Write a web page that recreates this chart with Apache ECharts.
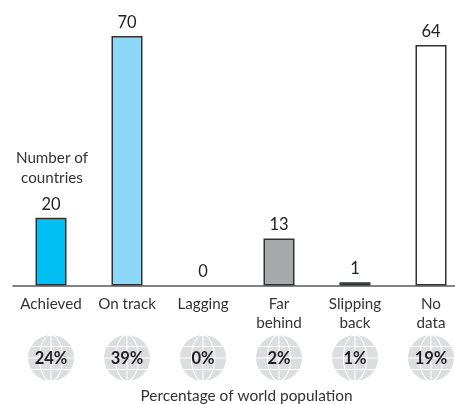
<!DOCTYPE html>
<html><head><meta charset="utf-8">
<style>html,body{margin:0;padding:0;background:#fff}#c{width:455px;height:404px}</style>
<script src="https://cdn.jsdelivr.net/npm/echarts@6/dist/echarts.min.js"></script>
</head><body><div id="c"></div>
<script>
const categories = ['Achieved','On track','Lagging','Far\nbehind','Slipping\nback','No\ndata'];
const countries = [20,70,0,13,1,64];
const drawnHeights = [19,70,0,13.2,0.9,67.5];
const barColors = ['#00BFF3','#8DD8F8','#ffffff','#A7A9AC','#58595B','#ffffff'];
const populationShare = [24,39,0,2,1,19];
const FONT = 'Lato';
const chart = echarts.init(document.getElementById('c'),null,{renderer:'canvas'});
function globe(params, api){
  const c = api.coord([api.value(0), 0]);
  const r = 23, x = c[0], y = c[1];
  const line = {stroke:'#fff', lineWidth:1.1, fill:null};
  return {type:'group', children:[
    {type:'circle', shape:{cx:x,cy:y,r:r}, style:{fill:'#DCDDDE'}},
    {type:'line', shape:{x1:x,y1:y-r,x2:x,y2:y+r}, style:line},
    {type:'ellipse', shape:{cx:x,cy:y,rx:11.5,ry:r}, style:line},
    {type:'line', shape:{x1:x-r,y1:y,x2:x+r,y2:y}, style:line},
    {type:'line', shape:{x1:x-r+3,y1:y-11.5,x2:x+r-3,y2:y-11.5}, style:line},
    {type:'line', shape:{x1:x-r+3,y1:y+11.5,x2:x+r-3,y2:y+11.5}, style:line},
    {type:'text', style:{x:x,y:y+1,text:populationShare[params.dataIndex]+'%',
      fill:'#231F20',font:'bold 16.5px '+FONT,textAlign:'center',textVerticalAlign:'middle'}}
  ]};
}
chart.setOption({
  animation:false,
  backgroundColor:'#fff',
  grid:[
    {left:13,width:456,top:36,height:249.5,outerBoundsMode:'none'},
    {left:13,width:456,top:335,height:46,outerBoundsMode:'none'}
  ],
  xAxis:[
    {type:'category',gridIndex:0,data:categories,
     axisTick:{show:false},
     axisLine:{lineStyle:{color:'#58595B',width:1.5}},
     axisLabel:{interval:0,margin:9,color:'#333',fontFamily:FONT,fontSize:15.2,lineHeight:19}},
    {type:'category',gridIndex:1,data:categories,show:false}
  ],
  yAxis:[
    {type:'value',gridIndex:0,min:0,max:70,show:false},
    {type:'value',gridIndex:1,min:-1,max:1,show:false}
  ],
  series:[
    {type:'bar',xAxisIndex:0,yAxisIndex:0,barWidth:31,
     data:drawnHeights.map((v,i)=>({value:v,itemStyle:{color:barColors[i],borderWidth:v===0?0:1.5}})),
     itemStyle:{borderColor:'#333',borderWidth:1.5},
     label:{show:true,position:'top',distance:5,color:'#222',fontFamily:FONT,fontSize:16.5,
       formatter:p=>String(countries[p.dataIndex])}},
    {type:'custom',xAxisIndex:1,yAxisIndex:1,renderItem:globe,
     data:populationShare.map((v,i)=>[i,0]),encode:{x:0,y:1},silent:true}
  ],
  graphic:[
    {type:'text',x:52,y:168,style:{text:'Number of\ncountries',fill:'#333',font:'15.2px '+FONT,lineHeight:20,textAlign:'center',textVerticalAlign:'middle'}},
    {type:'text',x:246.5,y:396,style:{text:'Percentage of world population',fill:'#333',font:'15.4px '+FONT,textAlign:'center',textVerticalAlign:'middle'}}
  ]
});
</script></body></html>
